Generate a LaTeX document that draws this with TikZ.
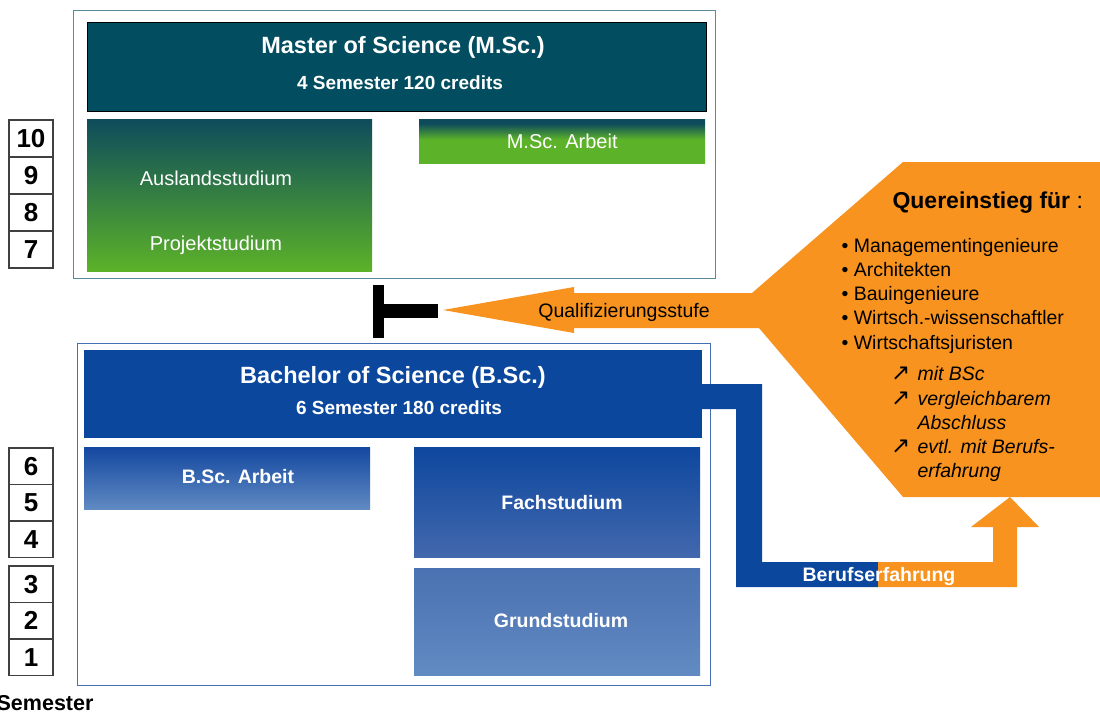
\documentclass[tikz,border=0pt]{standalone}
\usepackage{fontspec}
\setmainfont{Liberation Sans}
\newfontfamily\arrowfont{DejaVu Sans}
\usepackage{tikz}
\usetikzlibrary{positioning}
\usetikzlibrary{calc}

\definecolor{mteal}{RGB}{2,77,95}
\definecolor{mdark}{RGB}{14,76,92}
\definecolor{mgreen}{RGB}{92,178,40}
\definecolor{mline}{RGB}{90,138,152}
\definecolor{bblue}{RGB}{12,71,158}
\definecolor{bline}{RGB}{70,110,180}
\definecolor{bsctop}{RGB}{20,72,160}
\definecolor{bscbot}{RGB}{96,138,194}
\definecolor{fachtop}{RGB}{14,71,158}
\definecolor{fachbot}{RGB}{66,104,173}
\definecolor{grundtop}{RGB}{74,113,177}
\definecolor{grundbot}{RGB}{98,138,194}
\definecolor{qorange}{RGB}{247,147,30}

\pgfdeclareverticalshading{mscshade}{100bp}{color(0bp)=(mgreen); color(25bp)=(mgreen); color(52bp)=(mgreen); color(70bp)=(mdark); color(100bp)=(mdark)}

\tikzset{
  outerbox/.style={draw, line width=1.2pt, anchor=north west, inner sep=0pt},
  studybox/.style={anchor=north west, inner sep=0pt, text=white, font=\fontsize{20}{24}\selectfont},
  headtext/.style={text=white, font=\bfseries\fontsize{23.5}{27}\selectfont},
  subtext/.style={text=white, font=\bfseries\fontsize{19}{23}\selectfont},
  plaintext/.style={text=white, font=\fontsize{20}{24}\selectfont},
  boldtext/.style={text=white, font=\bfseries\fontsize{19.5}{24}\selectfont},
  sembox/.style={draw=black!75, line width=1.3pt, minimum width=44pt, minimum height=36.5pt, inner sep=0pt, font=\bfseries\fontsize{26}{30}\selectfont},
  listitem/.style={anchor=base west, font=\fontsize{19.5}{24}\selectfont},
}

\begin{document}
\begin{tikzpicture}[x=1pt,y=-1pt]
\useasboundingbox (0,0) rectangle (1100,713);
% Master
\node[outerbox, draw=mline, minimum width=642pt, minimum height=268pt] (masterframe) at (73,10) {};
\node[studybox, draw=black, fill=mteal, minimum width=619pt, minimum height=89pt] (masterhead) at (87,22) {};
\node[headtext] (mastertitle) at (403,47) {Master of Science (M.Sc.)};
\node[subtext] (mastersub) at (400,83) {4 Semester 120 credits};
\node[studybox, top color=mdark, bottom color=mgreen, minimum width=285pt, minimum height=152pt] (ausland) at (87,119) {};
\node[plaintext] (auslandtext) at (216,178) {Auslandsstudium};
\node[plaintext] (projekttext) at (216,245) {Projektstudium};
\node[studybox, shade, shading=mscshade, minimum width=286pt, minimum height=44pt] (mscarbeit) at (419,119) {M.Sc. Arbeit};
% Bachelor
\node[outerbox, draw=bline, minimum width=633pt, minimum height=342pt] (bachelorframe) at (77,343) {};
\node[studybox, fill=bblue, minimum width=618pt, minimum height=88pt] (bachelorhead) at (84,350) {};
\node[headtext] (bachelortitle) at (393,377) {Bachelor of Science (B.Sc.)};
\node[subtext] (bachelorsub) at (399,408) {6 Semester 180 credits};
\node[studybox, top color=bsctop, bottom color=bscbot, minimum width=286pt, minimum height=62pt] (bscarbeit) at (84,447) {};
\node[boldtext] (bsctext) at (238,477) {B.Sc. Arbeit};
\node[studybox, top color=fachtop, bottom color=fachbot, minimum width=286pt, minimum height=110pt] (fach) at (414,447) {};
\node[boldtext] (fachtext) at (562,503) {Fachstudium};
\node[studybox, top color=grundtop, bottom color=grundbot, minimum width=286pt, minimum height=107pt] (grund) at (414,568) {};
\node[boldtext] (grundtext) at (561,621) {Grundstudium};
% Semester
\foreach \n/\y in {10/138.5,9/175.5,8/212.5,7/249.5}
  \node[sembox, minimum height=37pt] (sem\n) at (31,\y) {\n};
\foreach \n/\y in {6/466.3,5/502.8,4/539.3,3/584.3,2/620.8,1/657.3}
  \node[sembox] (sem\n) at (31,\y) {\n};
\node[anchor=base east, font=\bfseries\fontsize{21.5}{25}\selectfont] (semlabel) at (97,710) {Semester};
% Quereinstieg
\fill[qorange] (443,310) -- (574,287) -- (574,293) -- (752,293) -- (903,162) -- (1100,162) -- (1100,497) -- (903,497) -- (759,328) -- (574,328) -- (574,333) -- cycle;
\fill (373,285) rectangle (384,338);
\fill (384,304) rectangle (438,318);
\node[font=\fontsize{19.5}{24}\selectfont] (quali) at (624,312) {Qualifizierungsstufe};
\node[anchor=base west, font=\fontsize{23}{27}\selectfont] (quer) at (889,208) {\textbf{Quereinstieg für} :};
\foreach \t [count=\i from 0] in {Managementingenieure,Architekten,Bauingenieure,Wirtsch.-wissenschaftler,Wirtschaftsjuristen}
  \node[listitem] (item\i) at (838,252+24.25*\i) {• \t};
\foreach \y/\a/\t in {380/↗/mit BSc,405/↗/vergleichbarem,429//Abschluss,453/↗/evtl. mit Berufs-,477//erfahrung}
  {\node[listitem, font=\itshape\fontsize{19.5}{24}\selectfont] at (914,\y) {\t};
   \node[anchor=base west, inner sep=0pt, font=\arrowfont\fontsize{23}{26}\selectfont] at (891,\y) {\a};}
% Berufserfahrung
\fill[bblue] (702,384) -- (762,384) -- (762,562) -- (878,562) -- (878,587) -- (736,587) -- (736,409) -- (702,409) -- cycle;
\fill[qorange] (878,562) -- (993,562) -- (993,527) -- (971,527) -- (1010,497) -- (1039,527) -- (1017,527) -- (1017,587) -- (878,587) -- cycle;
\node[text=white, font=\bfseries\fontsize{19.5}{24}\selectfont] (beruf) at (879,576) {Berufserfahrung};
\end{tikzpicture}
\end{document}
